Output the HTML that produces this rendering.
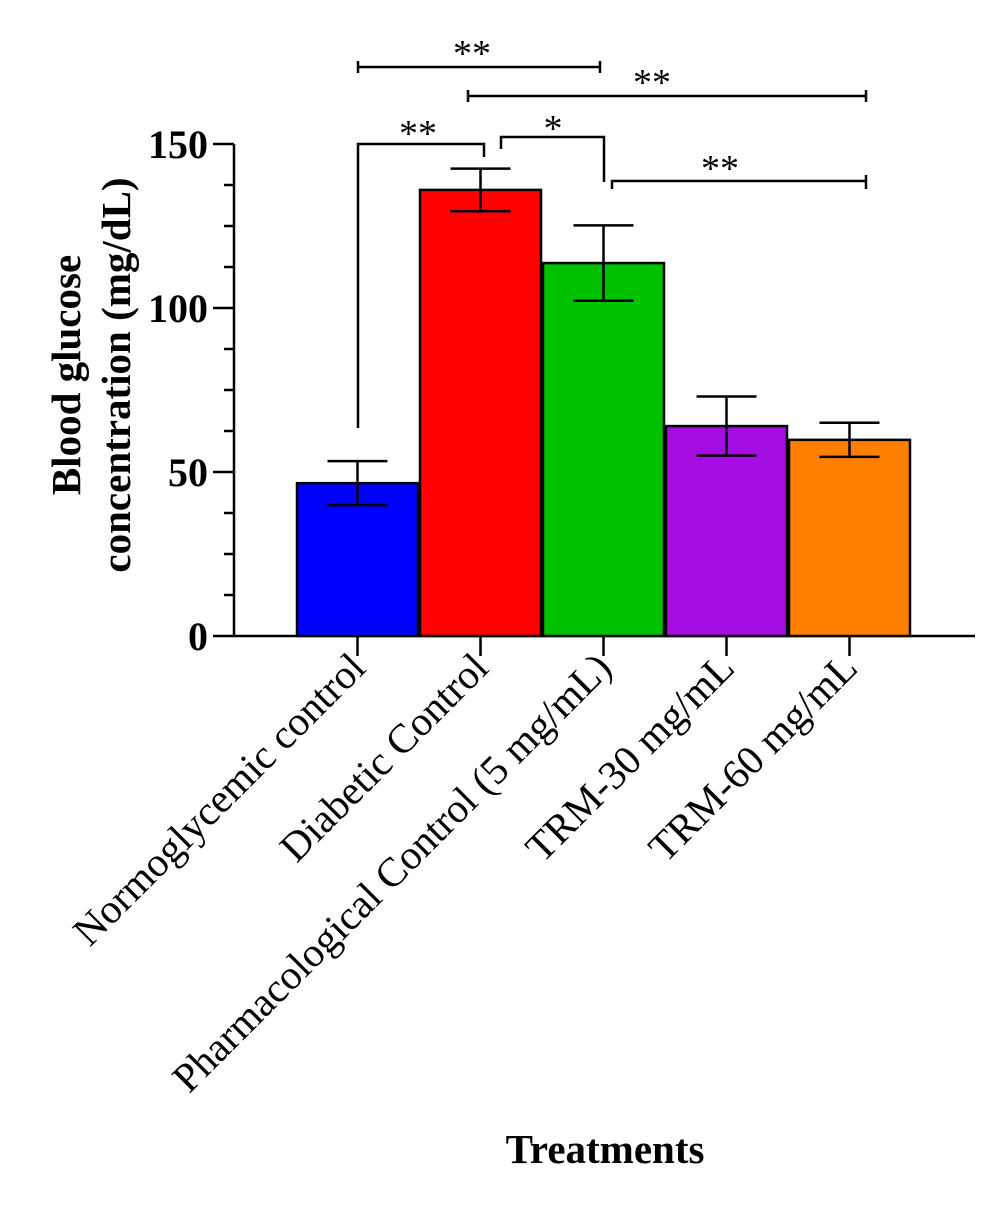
<!DOCTYPE html>
<html><head><meta charset="utf-8"><style>
body{margin:0;background:#fff}
svg text{font-family:"Liberation Serif",serif}
</style></head><body>
<svg width="1000" height="1209" xmlns="http://www.w3.org/2000/svg">
<g id="axes"></g><g id="bars"></g><g id="sig" stroke="#000" stroke-width="2.5" fill="none"></g>
<text x="0" y="0" transform="translate(90,375) rotate(-90)" text-anchor="middle" font-size="41" font-weight="bold"><tspan x="0" dy="-10">Blood glucose</tspan><tspan x="0" dy="50">concentration (mg/dL)</tspan></text>
<text x="605" y="1163" text-anchor="middle" font-size="41" font-weight="bold">Treatments</text>
</svg>
<script>
const categories=["Normoglycemic control","Diabetic Control","Pharmacological Control (5 mg/mL)","TRM-30 mg/mL","TRM-60 mg/mL"];
const means=[46.6,136,113.7,64,59.8];
const errors=[6.7,6.5,11.5,9,5.2];
const colors=["#0000ff","#ff0000","#00c000","#a40ee0","#ff8000"];
const yTicks=[0,50,100,150];
const NS="http://www.w3.org/2000/svg";
const svg=document.querySelector('svg');
const y=v=>636-v*3.28;
const x0=297,bw=123;
const cx=i=>x0+bw*i+bw/2;
function mk(t,a,p){const e=document.createElementNS(NS,t);for(const k in a)e.setAttribute(k,a[k]);(p||svg).appendChild(e);return e;}
const ax=document.getElementById('axes'),bg=document.getElementById('bars');
const yl=mk('line',{x1:234,y1:y(150),x2:234,y2:637,stroke:'#000','stroke-width':2.5},ax);


const xl=mk('line',{x1:233,y1:636,x2:975,y2:636,stroke:'#000','stroke-width':2.5},ax);


for(let v=0;v<=150;v+=12.5){const major=v%50===0;mk('line',{x1:major?213:224,x2:234,y1:y(v),y2:y(v),stroke:'#000','stroke-width':2.5},ax);}
yTicks.forEach(v=>{const t=mk('text',{x:208,y:y(v)+14,'text-anchor':'end','font-size':40,'font-weight':'bold'},ax);t.textContent=v;

});
categories.forEach((c,i)=>{
 const r=mk('rect',{x:x0+bw*i,y:y(means[i]),width:bw-2,height:636-y(means[i]),fill:colors[i],stroke:'#000','stroke-width':2.5},bg);
 
 
 const m=cx(i)-1,hi=y(means[i]+errors[i]),lo=y(means[i]-errors[i]);
 const eb=mk('path',{d:`M${m},${hi}V${lo}M${m-30},${hi}H${m+30}M${m-30},${lo}H${m+30}`,stroke:'#000','stroke-width':2.5,fill:'none'},bg);
 
 
 mk('line',{x1:m,x2:m,y1:636,y2:656,stroke:'#000','stroke-width':2.5},ax);
 const t=mk('text',{x:0,y:0,transform:`translate(${m+10},${670}) rotate(-45)`,'text-anchor':'end','font-size':41},ax);
 t.textContent=c;
 
 
});
const sg=document.getElementById('sig');
const sigs=[
 ["M358,61V73M358,67H600M600,61V73",472,66,"**"],
 ["M468,90V102M468,96H866M866,90V102",652,95,"**"],
 ["M358,428V144H484V157",418,146,"**"],
 ["M501,149V137H604V182",553,141,"*"],
 ["M612,189V181H866V189M866,175V189",720,181,"**"]];
sigs.forEach(s=>{const p=mk('path',{d:s[0]},sg);


const t=mk('text',{x:s[1],y:s[2],'text-anchor':'middle','font-size':38,fill:'#000',stroke:'none'},sg);t.textContent=s[3];

});
</script>
</body></html>
